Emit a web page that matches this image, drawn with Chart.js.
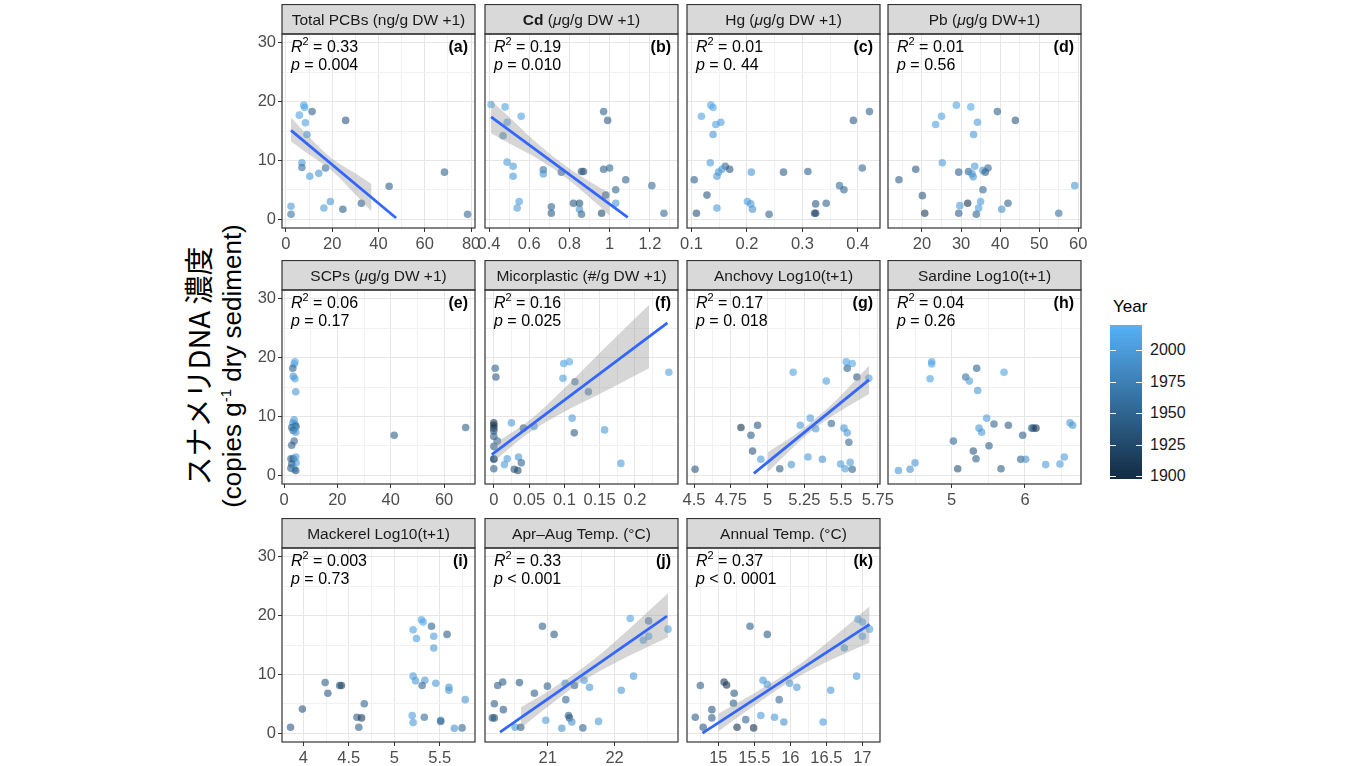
<!DOCTYPE html>
<html lang="ja">
<head>
<meta charset="utf-8">
<title>スナメリDNA 濃度</title>
<script src="https://cdn.jsdelivr.net/npm/chart.js@4.4.1/dist/chart.umd.min.js"></script>
<style>
  body { margin: 0; background: #fff; }
  #wrap { position: relative; width: 1369px; height: 766px; overflow: hidden; font-family: "Liberation Sans", Arial, sans-serif; }
  #wrap canvas { position: absolute; }
  #ytitle { position: absolute; left: 214px; top: 366px; transform: translate(-50%, -50%) rotate(-90deg); text-align: center; white-space: nowrap; color: #000; }
  #ytitle .l1 { font-family: "Noto Sans CJK JP", "Liberation Sans", sans-serif; font-size: 29px; line-height: 30px; }
  #ytitle .l2 { font-size: 26px; line-height: 28px; }
  #ytitle sup { font-size: 15px; }
  #legtitle { position: absolute; left: 1113px; top: 297px; font-size: 17px; color: #000; }
  #bar { position: absolute; left: 1110px; top: 325px; width: 32px; height: 154px; }
  .btick { position: absolute; width: 6px; height: 1px; background: #fff; }
  .blab { position: absolute; left: 1150px; font-size: 16px; color: #1A1A1A; transform: translateY(-50%); }
</style>
</head>
<body>
<div id="wrap">
  <div id="ytitle"><div class="l1">スナメリDNA 濃度</div><div class="l2">(copies g<sup>-1</sup> dry sediment)</div></div>
  <div id="legtitle">Year</div>
  <div id="bar"></div>
</div>
<script>
// y axis (DNA concentration) and legend
const yTicks = [0, 10, 20, 30];
const yLimits = [-1.5, 31.5];
const yearTicks = [1900, 1925, 1950, 1975, 2000];
const yearMin = 1898, yearMax = 2020;

// points: [x, DNA conc, year]
const pcbPts = [[7.7,19.4,2008],[8.1,19.0,2010],[11.3,18.3,1946],[5.8,17.7,2005],[25.8,16.8,1938],[8.4,16.4,2003],[9.1,14.4,1990],[6.9,9.6,2000],[6.9,8.8,1960],[10.3,7.3,1998],[14.2,7.8,1995],[17.1,8.7,1955],[68.5,8.0,1949],[44.6,5.6,1944],[2.2,2.2,1996],[2.2,0.85,1960],[16.4,1.9,2000],[19.2,3.0,1997],[24.6,1.7,1944],[32.6,2.7,1944],[78.5,0.85,1952]];
const cdPts = [[0.41,19.5,2010],[0.48,19.1,2005],[0.56,17.5,2004],[0.49,16.5,2002],[0.47,14.2,1975],[0.97,18.3,1946],[0.99,16.8,1941],[0.49,9.7,2000],[0.52,9.0,1998],[0.52,7.3,1997],[0.67,8.4,1960],[0.67,7.7,1995],[0.76,8.0,1949],[0.86,8.1,1938],[0.87,8.1,1933],[0.97,8.5,1944],[1.0,8.7,1952],[1.08,6.7,1946],[1.21,5.7,1955],[1.03,5.0,1952],[0.98,4.1,1938],[1.03,2.7,1995],[0.55,3.0,2000],[0.54,1.9,1998],[0.71,2.1,1949],[0.71,1.0,1944],[0.82,2.7,1938],[0.85,2.7,1933],[0.85,1.7,1990],[0.86,0.85,1949],[0.96,1.0,1925],[1.27,1.0,1955]];
const hgPts = [[0.135,19.4,2008],[0.139,19.0,2010],[0.118,17.5,2005],[0.144,16.1,2003],[0.153,16.5,2002],[0.139,14.4,1995],[0.134,9.6,2000],[0.161,9.0,1952],[0.169,8.5,1938],[0.155,8.5,1998],[0.149,8.0,1997],[0.146,7.3,1996],[0.208,8.0,1995],[0.266,8.0,1944],[0.31,8.1,1946],[0.105,6.7,1944],[0.128,4.1,1938],[0.392,16.8,1941],[0.421,18.3,1946],[0.408,8.7,1952],[0.367,5.7,1955],[0.375,5.0,1952],[0.343,2.7,1949],[0.324,2.6,1938],[0.322,1.0,1933],[0.324,1.0,1925],[0.24,0.85,1949],[0.201,3.0,2000],[0.207,2.6,1998],[0.21,1.7,1990],[0.146,1.9,2000],[0.109,1.0,1933]];
const pbPts = [[28.8,19.4,2008],[32.5,19.1,2010],[39.3,18.3,1946],[25.0,17.5,2005],[43.9,16.8,1941],[34.2,16.5,2002],[23.5,16.1,2003],[33.2,14.4,1995],[25.2,9.6,2000],[18.4,8.5,1938],[33.5,9.0,1998],[36.9,8.7,1952],[35.6,8.3,1997],[36.2,8.0,1944],[29.4,8.0,1944],[31.9,8.1,1946],[32.8,7.7,1995],[33.1,7.2,1996],[14.1,6.7,1944],[59.1,5.7,1995],[35.6,5.0,1952],[20.1,4.0,1938],[35.0,3.0,2000],[42.0,2.7,1949],[31.7,2.7,1907],[29.7,2.3,1998],[34.5,1.9,2000],[40.4,1.7,1990],[20.7,1.0,1912],[29.4,1.0,1944],[33.9,0.85,1949],[55.0,1.0,1960]];
const scpPts = [[4.1,19.3,2008],[3.8,18.9,2010],[3.3,18.2,1946],[3.5,16.8,1990],[4.1,16.4,2003],[4.4,14.2,1995],[3.8,9.4,2000],[3.3,8.9,1998],[4.1,8.6,1997],[4.5,8.3,1938],[2.9,8.1,1944],[3.8,8.0,1995],[3.5,7.6,1952],[4.4,7.3,1996],[3.8,5.8,1952],[2.9,5.1,1944],[2.6,2.8,1949],[3.5,2.8,1938],[4.4,3.1,2000],[4.5,2.1,1998],[2.9,1.9,1949],[2.6,1.2,1944],[3.8,1.0,2000],[4.4,0.8,1933],[41.3,6.8,1944],[68.1,8.1,1946]];
const mpPts = [[0.099,19.0,2008],[0.107,19.3,2010],[0.002,18.2,1946],[0.003,16.7,1941],[0.098,16.5,2003],[0.115,15.9,1960],[0.134,14.2,1960],[0.248,17.5,2005],[0.111,9.7,2000],[0.025,8.9,1998],[0,8.9,1912],[0,8.5,1907],[0,8.0,1903],[0.042,8.0,1944],[0.057,8.3,1997],[0.157,7.7,1996],[0.114,7.2,1944],[0,7.5,1938],[0,6.6,1944],[0.005,5.8,1952],[0,4.9,1944],[0,2.8,1938],[0,2.7,1933],[0.019,2.8,1998],[0.015,1.8,2000],[0.035,3.1,1995],[0.039,2.1,1949],[0,1.1,1944],[0.029,1.0,1933],[0.034,0.8,1925],[0.18,2.0,2000]];
const anchovyPts = [[5.535,19.3,2008],[5.576,19.0,2010],[5.542,18.2,1946],[5.174,17.5,2005],[5.608,16.7,1941],[5.689,16.5,2003],[5.40,16.0,2002],[5.291,9.7,2000],[5.327,7.9,1997],[5.223,8.5,1998],[5.434,8.8,1952],[5.52,8.0,1995],[5.542,7.2,1996],[5.553,5.6,1952],[4.819,8.1,1903],[4.932,8.5,1938],[4.887,6.8,1944],[4.898,4.1,1938],[4.954,2.7,1998],[5.083,1.1,1944],[5.162,1.8,1995],[5.275,3.1,2000],[5.373,2.7,1990],[5.497,1.9,2000],[5.528,1.1,2000],[5.562,2.2,1998],[5.576,1.0,1949],[4.507,1.0,1938]];
const sardinePts = [[4.727,19.3,2008],[4.727,18.9,2010],[4.705,16.4,2003],[5.341,18.2,1946],[5.714,17.5,2005],[5.191,16.7,1960],[5.241,16.0,2002],[5.355,14.4,1995],[5.477,9.7,2000],[5.577,8.7,1949],[5.773,8.5,1941],[5.373,8.0,1997],[5.409,7.3,1996],[5.968,6.8,1944],[6.091,8.0,1955],[6.114,8.0,1938],[6.15,8.0,1912],[6.614,8.9,1998],[6.65,8.5,1995],[5.023,5.8,1952],[5.509,5.0,1944],[5.295,4.1,1938],[5.332,2.8,1944],[5.941,2.7,1949],[6.009,2.7,1990],[6.282,1.8,1998],[6.536,3.1,2000],[6.477,1.9,2000],[5.082,1.1,1933],[5.673,1.1,1944],[4.273,0.8,1995],[4.432,1.0,1990],[4.5,2.1,1993]];
const mackerelPts = [[5.299,19.3,2008],[5.317,18.9,2010],[5.409,18.2,1946],[5.207,17.6,2005],[5.434,16.5,2002],[5.58,16.8,1941],[5.244,16.1,2003],[5.434,14.5,1995],[5.207,9.7,2000],[5.233,8.9,1998],[5.336,9.0,1997],[5.306,8.1,1949],[5.456,8.5,1996],[5.6,7.8,1995],[5.6,7.3,1996],[5.78,5.7,1993],[4.24,8.6,1944],[4.40,8.1,1933],[4.42,8.1,1925],[4.27,6.8,1941],[4.67,5.0,1949],[3.99,4.1,1938],[4.59,2.7,1944],[4.64,2.6,1912],[4.61,1.0,1944],[3.86,1.0,1938],[5.197,3.0,2000],[5.207,1.8,1998],[5.33,2.7,1955],[5.51,2.2,1995],[5.51,2.0,1944],[5.66,0.85,1990],[5.745,0.9,1952]];
const aprAugPts = [[22.235,19.5,2008],[22.51,19.1,1960],[22.8,17.7,2005],[22.51,16.5,2003],[22.43,15.8,2000],[20.92,18.2,1946],[21.095,16.8,1941],[22.285,9.7,2000],[22.1,7.3,1996],[20.25,8.1,1944],[20.325,8.7,1941],[20.575,8.6,1938],[20.995,8.0,1944],[20.8,6.8,1944],[21.26,8.5,1998],[21.4,8.1,1949],[21.545,9.0,1997],[21.625,7.8,1995],[21.27,5.7,1952],[20.2,5.0,1944],[20.335,4.0,1938],[20.17,2.6,1944],[20.2,2.6,1933],[21.31,3.0,1949],[21.325,2.6,1938],[21.36,1.9,1990],[20.97,2.2,1998],[21.76,2.0,2000],[21.21,0.85,1990],[21.525,0.9,1949],[20.51,1.0,1995],[20.595,1.0,1938]];
const annualPts = [[16.94,19.4,2008],[17.0,18.9,2010],[17.1,17.7,2005],[17.0,16.5,2003],[16.75,14.5,1995],[15.44,18.2,1946],[15.68,16.8,1941],[16.92,9.7,2000],[16.56,7.3,1996],[14.75,8.1,1944],[15.08,8.7,1912],[15.115,8.2,1907],[15.62,9.0,1997],[15.68,8.3,1998],[15.99,8.5,1995],[16.09,7.8,1996],[15.22,6.8,1941],[15.21,5.1,1944],[15.845,5.7,1952],[14.91,4.0,1938],[14.91,2.6,1944],[14.68,2.7,1944],[15.38,2.3,1949],[15.59,3.0,2000],[15.78,2.7,1998],[15.91,1.9,1990],[16.455,1.9,2000],[14.79,1.0,1938],[15.26,1.0,1907],[15.49,0.9,1903]];

// fitted lines [x, y] and confidence bands [x, lower, upper]
const fitA = [[2.2, 15.1], [47.6, 0.2]];
const bandA = [[2.2,13.2,17.3],[10,11.0,14.0],[20,8.2,10.3],[30,4.2,7.8],[37,1.3,6.0]];
const fitB = [[0.41, 17.4], [1.09, 0.3]];
const bandB = [[0.41,14.6,20.2],[0.5,12.9,17.4],[0.65,10.1,12.6],[0.8,6.6,8.6],[0.95,2.2,5.4],[1.0,0.6,4.5]];
const fitF = [[-0.003, 3.5], [0.246, 25.9]];
const bandF = [[0,2.3,5.3],[0.05,7.2,9.3],[0.1,10.8,14.8],[0.15,13.8,20.8],[0.22,18.2,29.0]];
const fitG = [[4.907, 0.3], [5.69, 16.2]];
const bandG = [[5.0,0.5,3.9],[5.2,5.35,7.15],[5.35,8.5,10.1],[5.5,11.0,13.6],[5.69,13.8,18.6]];
const fitJ = [[20.285, 0.17], [22.785, 19.9]];
const bandJ = [[20.6,0.9,4.4],[21.0,4.5,7.1],[21.5,8.7,10.9],[22.0,11.9,15.5],[22.8,16.3,23.8]];
const fitK = [[14.78, 0.0], [17.1, 18.5]];
const bandK = [[15.0,0.3,3.3],[15.5,4.7,6.8],[16.0,8.8,10.6],[16.5,12.1,15.3],[17.1,15.4,21.6]];

// panel titles (text segments), stats and x axes
const panelTitles = [
  [['Total PCBs (ng/g DW +1)', '']],
  [['Cd', 'bold'], [' (', ''], ['\u03bc', 'italic'], ['g/g DW +1)', '']],
  [['Hg (', ''], ['\u03bc', 'italic'], ['g/g DW +1)', '']],
  [['Pb (', ''], ['\u03bc', 'italic'], ['g/g DW+1)', '']],
  [['SCPs (', ''], ['\u03bc', 'italic'], ['g/g DW +1)', '']],
  [['Micorplastic (#/g DW +1)', '']],
  [['Anchovy Log10(t+1)', '']],
  [['Sardine Log10(t+1)', '']],
  [['Mackerel Log10(t+1)', '']],
  [['Apr\u2013Aug Temp. (\u00b0C)', '']],
  [['Annual Temp. (\u00b0C)', '']]
];
const r2Vals = ['0.33', '0.19', '0.01', '0.01', '0.06', '0.16', '0.17', '0.04', '0.003', '0.33', '0.37'];
const pVals = ['= 0.004', '= 0.010', '= 0. 44', '= 0.56', '= 0.17', '= 0.025', '= 0. 018', '= 0.26', '= 0.73', '< 0.001', '< 0. 0001'];
const tags = ['(a)', '(b)', '(c)', '(d)', '(e)', '(f)', '(g)', '(h)', '(i)', '(j)', '(k)'];
const xTicksList = [
  [0, 20, 40, 60, 80],
  [0.4, 0.6, 0.8, 1, 1.2],
  [0.1, 0.2, 0.3, 0.4],
  [20, 30, 40, 50, 60],
  [0, 20, 40, 60],
  [0, 0.05, 0.1, 0.15, 0.2],
  [4.5, 4.75, 5, 5.25, 5.5, 5.75],
  [5, 6],
  [4, 4.5, 5, 5.5],
  [21, 22],
  [15, 15.5, 16, 16.5, 17]
];
const xLimits = [[-1.7, 81.7], [0.38, 1.34], [0.092, 0.44], [11.3, 60.7], [-0.75, 71.6], [-0.0125, 0.261],
                 [4.452, 5.765], [4.131, 6.764], [3.766, 5.887], [20.06, 22.95], [14.565, 17.245]];

const panels = [
  { pts: pcbPts, fit: fitA, band: bandA },
  { pts: cdPts, fit: fitB, band: bandB },
  { pts: hgPts },
  { pts: pbPts },
  { pts: scpPts },
  { pts: mpPts, fit: fitF, band: bandF },
  { pts: anchovyPts, fit: fitG, band: bandG },
  { pts: sardinePts },
  { pts: mackerelPts },
  { pts: aprAugPts, fit: fitJ, band: bandJ },
  { pts: annualPts, fit: fitK, band: bandK }
];

// layout
const colLeft = [282, 485, 687, 888];
const rowTop = [4, 260, 518];
const PLOT_W = 193, PLOT_H = 194, STRIP_H = 30, YAX_W = 48, XAX_H = 28, PAD_R = 20;
const FONT = '"Liberation Sans", Arial, sans-serif';
Chart.defaults.font.family = FONT;

const lowC = [19, 43, 67], highC = [86, 177, 247];
function yearColor(yr, alpha) {
  const t = Math.max(0, Math.min(1, (yr - yearMin) / (yearMax - yearMin)));
  const c = lowC.map((v, i) => Math.round(v + (highC[i] - v) * t));
  return 'rgba(' + c[0] + ',' + c[1] + ',' + c[2] + ',' + alpha + ')';
}

function withMinors(majors, lim) {
  const step = majors.length > 1 ? majors[1] - majors[0] : 1;
  const out = majors.slice();
  const cands = [majors[0] - step / 2];
  for (let i = 0; i < majors.length - 1; i++) cands.push((majors[i] + majors[i + 1]) / 2);
  cands.push(majors[majors.length - 1] + step / 2);
  cands.forEach(v => { if (v >= lim[0] && v <= lim[1]) out.push(v); });
  return out.sort((a, b) => a - b);
}

function drawRich(ctx, segs, x, y, align, size) {
  const parts = segs.map(([t, st]) => {
    const sup = st === 'sup';
    const f = (sup ? '' : (st || '')) + ' ' + (sup ? Math.round(size * 0.68) : size) + 'px ' + FONT;
    ctx.font = f;
    return { t, f, dy: sup ? -size * 0.42 : 0, w: ctx.measureText(t).width };
  });
  const total = parts.reduce((s, p) => s + p.w, 0);
  let cx = align === 'center' ? x - total / 2 : align === 'right' ? x - total : x;
  ctx.textAlign = 'left';
  ctx.textBaseline = 'alphabetic';
  parts.forEach(p => { ctx.font = p.f; ctx.fillText(p.t, cx, y + p.dy); cx += p.w; });
}

function makeDeco(i) {
  return {
    id: 'deco' + i,
    afterDraw(chart) {
      const { ctx, chartArea: a } = chart;
      ctx.save();
      ctx.fillStyle = '#D9D9D9';
      ctx.fillRect(a.left, a.top - STRIP_H, a.width, STRIP_H);
      ctx.strokeStyle = '#333333';
      ctx.lineWidth = 1.2;
      ctx.strokeRect(a.left, a.top - STRIP_H + 0.5, a.width, STRIP_H - 0.5);
      ctx.strokeRect(a.left, a.top, a.width, a.height);
      ctx.fillStyle = '#1A1A1A';
      drawRich(ctx, panelTitles[i], a.left + a.width / 2, a.top - STRIP_H + 21, 'center', 15.5);
      ctx.fillStyle = '#000';
      drawRich(ctx, [['R', 'italic'], ['2', 'sup'], [' = ' + r2Vals[i], '']], a.left + 9, a.top + 18, 'left', 16);
      drawRich(ctx, [['p', 'italic'], [' ' + pVals[i], '']], a.left + 9, a.top + 36, 'left', 16);
      drawRich(ctx, [[tags[i], 'bold']], a.right - 7, a.top + 18, 'right', 16);
      ctx.restore();
    }
  };
}

const wrap = document.getElementById('wrap');
panels.forEach((p, i) => {
  const col = i % 4, row = Math.floor(i / 4);
  const cv = document.createElement('canvas');
  const W = YAX_W + PLOT_W + PAD_R, H = STRIP_H + PLOT_H + XAX_H;
  cv.width = W; cv.height = H;
  cv.style.left = (colLeft[col] - YAX_W) + 'px';
  cv.style.top = rowTop[row] + 'px';
  wrap.appendChild(cv);

  const majorsX = xTicksList[i];
  const allX = withMinors(majorsX, xLimits[i]);
  const allY = withMinors(yTicks, yLimits);
  const firstCol = col === 0;

  const ds = [];
  if (p.fit) {
    ds.push({ type: 'line', data: p.fit.map(([x, y]) => ({ x, y })), borderColor: '#3366FF', borderWidth: 2.8, pointRadius: 0, fill: false });
    ds.push({ type: 'line', data: p.band.map(([x, lo, hi]) => ({ x, y: hi })), borderColor: 'rgba(0,0,0,0)', borderWidth: 1, pointRadius: 0, fill: false, tension: 0.35 });
    ds.push({ type: 'line', data: p.band.map(([x, lo]) => ({ x, y: lo })), borderColor: 'rgba(0,0,0,0)', borderWidth: 1, pointRadius: 0, fill: '-1', backgroundColor: 'rgba(153,153,153,0.4)', tension: 0.35 });
  }
  ds.push({ type: 'scatter', data: p.pts.map(([x, y]) => ({ x, y })), pointRadius: 3.8, pointHoverRadius: 3.8,
            pointBackgroundColor: p.pts.map(q => yearColor(q[2], 0.6)), pointBorderWidth: 0 });

  new Chart(cv, {
    type: 'scatter',
    data: { datasets: ds },
    plugins: [makeDeco(i)],
    options: {
      responsive: false, animation: false, devicePixelRatio: 1,
      layout: { padding: { top: STRIP_H, right: PAD_R, left: 0, bottom: 0 } },
      plugins: { legend: { display: false }, tooltip: { enabled: false } },
      scales: {
        x: {
          type: 'linear', min: xLimits[i][0], max: xLimits[i][1],
          afterBuildTicks: s => { s.ticks = allX.map(v => ({ value: v })); },
          afterFit: s => { s.height = XAX_H; },
          border: { display: false },
          grid: {
            color: c => majorsX.includes(c.tick && c.tick.value) ? '#E6E6E6' : '#F1F1F1',
            lineWidth: 1, tickLength: 4,
            tickColor: c => majorsX.includes(c.tick && c.tick.value) ? '#333333' : 'rgba(0,0,0,0)'
          },
          ticks: { autoSkip: false, maxRotation: 0, padding: 3, color: '#4D4D4D', font: { size: 16.5 },
                   callback: v => majorsX.includes(v) ? String(v) : '' }
        },
        y: {
          type: 'linear', min: yLimits[0], max: yLimits[1],
          afterBuildTicks: s => { s.ticks = allY.map(v => ({ value: v })); },
          afterFit: s => { s.width = YAX_W; },
          border: { display: false },
          grid: {
            color: c => yTicks.includes(c.tick && c.tick.value) ? '#E6E6E6' : '#F1F1F1',
            lineWidth: 1, tickLength: 4, drawTicks: firstCol,
            tickColor: c => yTicks.includes(c.tick && c.tick.value) ? '#333333' : 'rgba(0,0,0,0)'
          },
          ticks: { display: firstCol, autoSkip: false, padding: 2, color: '#4D4D4D', font: { size: 16.5 },
                   callback: v => yTicks.includes(v) ? String(v) : '' }
        }
      }
    }
  });
});

// colour bar legend
const bar = document.getElementById('bar');
bar.style.background = 'linear-gradient(to top, ' + yearColor(yearMin, 1) + ', ' + yearColor(yearMax, 1) + ')';
const barTop = 325, barH = 154;
yearTicks.forEach(yr => {
  const y = barTop + (yearMax - yr) / (yearMax - yearMin) * barH;
  [1110, 1136].forEach(x => {
    const t = document.createElement('div');
    t.className = 'btick';
    t.style.left = x + 'px';
    t.style.top = Math.round(y) + 'px';
    wrap.appendChild(t);
  });
  const lab = document.createElement('div');
  lab.className = 'blab';
  lab.style.top = y + 'px';
  lab.textContent = yr;
  wrap.appendChild(lab);
});
</script>
</body>
</html>
